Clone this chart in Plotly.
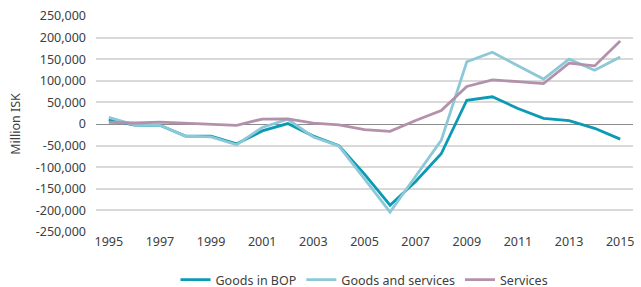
import plotly.graph_objects as go

years = list(range(1995, 2016))
goods_bop = [10000, -2300, -3000, -28000, -28000, -46000, -16000, 1000, -28000, -50000,
             -116000, -188000, -133000, -69000, 55000, 63000, 36000, 13000, 8000, -10000, -35000]
goods_services = [15500, -2000, -3000, -28000, -30000, -48000, -8000, 11000, -30000, -51000,
                  -127000, -204000, -121000, -38000, 144000, 166000, 135000, 104000, 150000, 124500, 155000]
services = [4000, 2300, 4500, 1500, -1500, -3000, 11500, 12000, 2000, -2000,
            -13000, -17000, 8000, 31000, 87000, 102000, 98000, 93500, 141000, 134500, 192000]

y_ticks = list(range(-250000, 250001, 50000))
y_labels = [f"{v:,}" for v in y_ticks]
x_ticks = list(range(1995, 2016, 2))

series = [
    ("Goods in BOP", goods_bop, "#0b9ab3"),
    ("Goods and services", goods_services, "#8cc8d6"),
    ("Services", services, "#b391ab"),
]

fig = go.Figure()
for name, vals, color in series:
    fig.add_trace(go.Scatter(x=years, y=vals, name=name, mode="lines",
                             line=dict(color=color, width=2.8)))

font_family = "Noto Sans, Open Sans, sans-serif"
plot_h = 287 - 16 - 55
fig.update_layout(
    width=641, height=287,
    margin=dict(l=96, r=8, t=16, b=55, autoexpand=False),
    paper_bgcolor="white", plot_bgcolor="white",
    font=dict(family=font_family, size=12.5, color="#404040"),
    showlegend=True,
    legend=dict(orientation="h", x=0.5, xanchor="center", y=-48 / plot_h, yanchor="middle",
                font=dict(size=12.5, color="#404040"), itemwidth=30,
                tracegroupgap=0),
    xaxis=dict(range=[1994.5, 2015.5], tickvals=x_ticks, ticktext=[str(v) for v in x_ticks],
               showgrid=False, zeroline=False, showline=False, ticks="",
               tickfont=dict(size=12.5, color="#404040")),
    yaxis=dict(range=[-250000, 250000], tickvals=y_ticks, ticktext=y_labels,
               showgrid=True, gridcolor="#d9d9d9", gridwidth=1.5,
               zeroline=True, zerolinecolor="#8c8c8c", zerolinewidth=1,
               showline=False, ticks="", ticklabelstandoff=9,
               tickfont=dict(size=12.5, color="#404040"),
               title=dict(text="Million ISK", standoff=12,
                          font=dict(size=12.5, color="#404040"))),
)

fig.write_html("out.html", config={"displayModeBar": False},
               post_script="document.body.style.margin='0';document.body.style.padding='0';")
